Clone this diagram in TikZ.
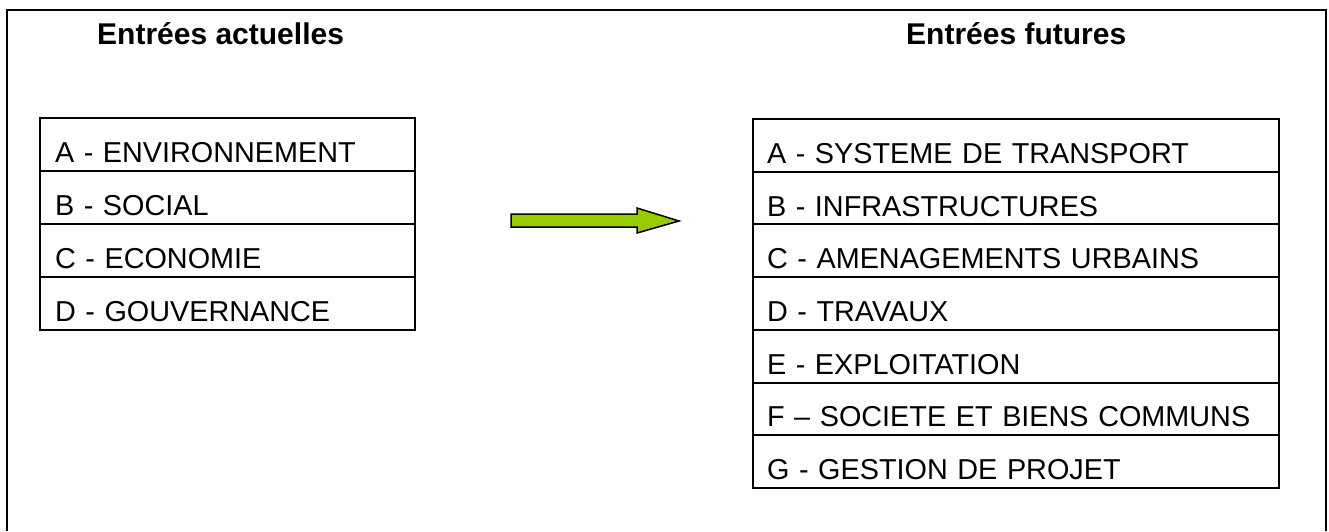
\documentclass[tikz,border=0pt]{standalone}
\usepackage{fontspec}
\setmainfont{Liberation Sans}
\usepackage{xcolor}
\usetikzlibrary{positioning}
\definecolor{arrowgreen}{RGB}{153,204,0}

\begin{document}
\begin{tikzpicture}[x=1pt, y=-1pt,
    title/.style={font=\fontsize{30}{36}\selectfont\bfseries, inner sep=0pt, anchor=base west},
    entry/.style={rectangle, draw, line width=2pt, outer sep=0pt, inner ysep=0pt,
        font=\fontsize{28.8}{34}\selectfont, align=left, text height=36pt, text depth=0pt},
    entryl/.style={entry, text width=345pt, inner xsep=15pt, minimum height=53pt},
    entryr/.style={entry, text width=498pt, inner xsep=14pt, minimum height=52.7pt}
]
\useasboundingbox (0,0) rectangle (1329,531);

% frame
\draw[line width=1.5pt] (7,531) -- (7,10) -- (1326,10) -- (1326,531);

% titles
\node[title] (tact) at (97,44) {Entrées actuelles};
\node[title] (tfut) at (906,44) {Entrées futures};

% current entries
\node[entryl, anchor=north west] (la) at (40,118) {A - ENVIRONNEMENT};
\node[entryl, below=0pt of la] (lb) {B - SOCIAL};
\node[entryl, below=0pt of lb] (lc) {C - ECONOMIE};
\node[entryl, below=0pt of lc] (ld) {D - GOUVERNANCE};

% future entries
\node[entryr, anchor=north west] (ra) at (753,119) {A - SYSTEME DE TRANSPORT};
\node[entryr, below=0pt of ra] (rb) {B - INFRASTRUCTURES};
\node[entryr, below=0pt of rb] (rc) {C - AMENAGEMENTS URBAINS};
\node[entryr, below=0pt of rc] (rd) {D - TRAVAUX};
\node[entryr, below=0pt of rd] (re) {E - EXPLOITATION};
\node[entryr, below=0pt of re] (rf) {F – SOCIETE ET BIENS COMMUNS};
\node[entryr, below=0pt of rf] (rg) {G - GESTION DE PROJET};

% block arrow
\draw[line width=1.5pt, fill=arrowgreen, line join=miter]
    (511,214) -- (637,214) -- (637,208) -- (679,221) -- (637,233) -- (637,227) -- (511,227) -- cycle;

\end{tikzpicture}
\end{document}
